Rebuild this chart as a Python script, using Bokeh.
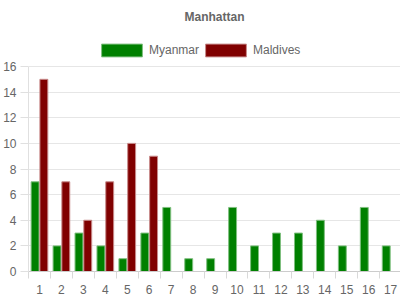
from bokeh.plotting import figure
from bokeh.models import ColumnDataSource, FixedTicker, Legend, LegendItem, Range1d
from bokeh.transform import dodge
from bokeh.embed import file_html
from bokeh.resources import INLINE

categories = [str(i) for i in range(1, 18)]
myanmar = [7, 2, 3, 2, 1, 3, 5, 1, 1, 5, 2, 3, 3, 4, 2, 5, 2]
maldives = [15, 7, 4, 7, 10, 9, 0, 0, 0, 0, 0, 0, 0, 0, 0, 0, 0]
y_ticks = [0, 2, 4, 6, 8, 10, 12, 14, 16]

xs = list(range(1, len(categories) + 1))
src = ColumnDataSource(dict(x=xs, myanmar=myanmar, maldives=maldives))

FONT = "Liberation Sans"
GREY = "#666666"

# frame spans 28..271 px; value 16 sits at 66 px, leaving room for the legend
TOP_BORDER = 28
Y_TOP = 16 + (66 - TOP_BORDER) / (205 / 16)

p = figure(width=400, height=300, output_backend="svg", toolbar_location=None,
           x_range=Range1d(0.5, 17.45), y_range=Range1d(0, Y_TOP),
           min_border_left=27, min_border_right=0, min_border_top=TOP_BORDER, min_border_bottom=29,
           title="Manhattan")
p.title.align = "center"
p.title.text_font = FONT
p.title.text_font_size = "12px"
p.title.text_font_style = "bold"
p.title.text_color = GREY
p.outline_line_color = None
p.background_fill_color = "white"
p.border_fill_color = "white"

g = p.vbar(x=dodge("x", -0.2, range=p.x_range), top="myanmar", width=0.36, source=src,
           fill_color="#008000", line_color="#7fbf7f")
r = p.vbar(x=dodge("x", 0.2, range=p.x_range), top="maldives", width=0.36, source=src,
           fill_color="#800000", line_color="#c78a8a")

# x axis
xa = p.xaxis[0]
xa.ticker = FixedTicker(ticks=xs, minor_ticks=[i + 0.5 for i in range(0, len(categories) + 1)])
xa.major_label_overrides = {x: c for x, c in zip(xs, categories)}
xa.major_tick_out = 0
xa.major_tick_in = 0
xa.minor_tick_out = 7
xa.minor_tick_in = 0
xa.minor_tick_line_color = "#d9d9d9"
xa.axis_line_color = "#cccccc"
xa.major_label_standoff = 6
xa.major_label_text_font = FONT
xa.major_label_text_font_size = "12px"
xa.major_label_text_color = GREY

ya = p.yaxis[0]
ya.ticker = FixedTicker(ticks=y_ticks, minor_ticks=[])
ya.bounds = (0, 16)
ya.major_tick_out = 8
ya.major_tick_in = 0
ya.major_tick_line_color = "#e0e0e0"
ya.axis_line_color = "#e0e0e0"
ya.major_label_standoff = 4
ya.major_label_text_font = FONT
ya.major_label_text_font_size = "12px"
ya.major_label_text_color = GREY

p.xgrid.grid_line_color = None
p.ygrid.grid_line_color = "#e6e6e6"
p.ygrid.ticker = FixedTicker(ticks=y_ticks)

legend = Legend(items=[LegendItem(label="Myanmar", renderers=[g]),
                       LegendItem(label="Maldives", renderers=[r])],
                location=(68, 213), orientation="horizontal",
                glyph_width=51, glyph_height=16, label_standoff=2, spacing=1,
                padding=0, margin=0, border_line_color=None, background_fill_alpha=0,
                label_text_font=FONT, label_text_font_size="12px", label_text_color=GREY)
p.add_layout(legend)

open("out.html", "w").write(file_html(p, INLINE))
